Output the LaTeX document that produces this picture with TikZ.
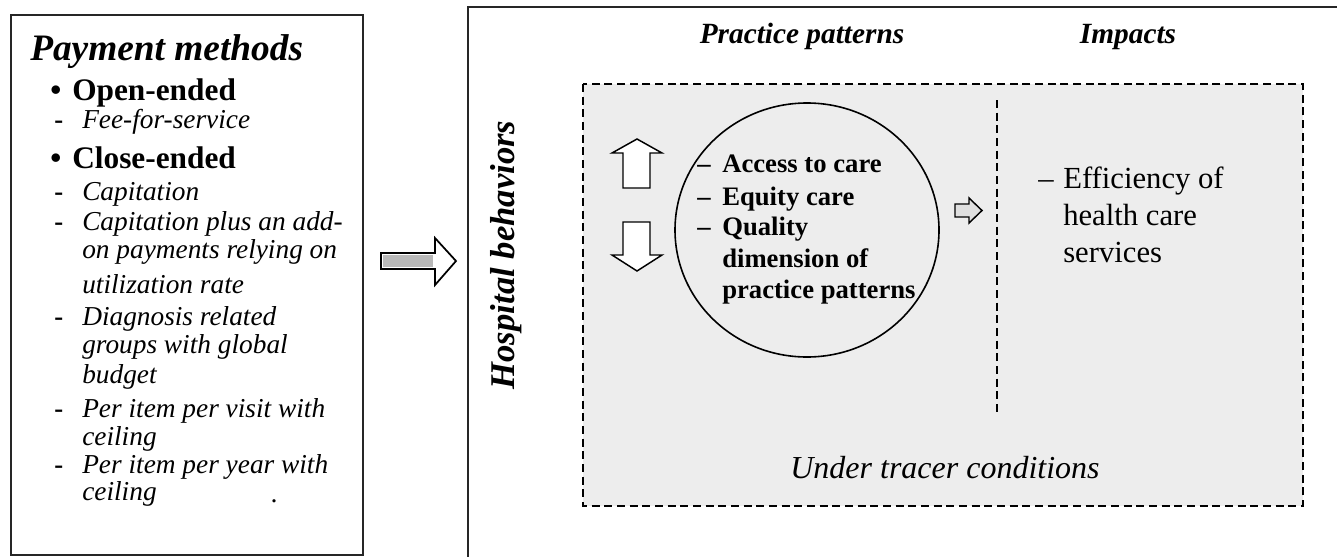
\documentclass[tikz,border=0pt]{standalone}
\usepackage{fontspec}
\setmainfont{Liberation Serif}
\usetikzlibrary{shapes.geometric}
\begin{document}
\begin{tikzpicture}[x=0.75pt,y=-0.75pt,
  frame/.style={line width=1.6pt, draw=black!85},
  txt/.style={inner sep=0pt, anchor=base west},
  title/.style={txt, font=\fontsize{28}{32}\selectfont\bfseries\itshape},
  head/.style={txt, font=\fontsize{23.5}{28}\selectfont\bfseries},
  item/.style={txt, font=\fontsize{20.5}{24}\selectfont\itshape},
  dsh/.style={txt, font=\fontsize{20}{24}\selectfont\bfseries},
  ctext/.style={txt, font=\fontsize{20}{24}\selectfont\bfseries},
  etext/.style={txt, font=\fontsize{23}{27}\selectfont},
  coltitle/.style={inner sep=0pt, anchor=base, font=\fontsize{22}{26}\selectfont\bfseries\itshape},
  dashbox/.style={line width=1.3pt, dash pattern=on 6pt off 3.5pt},
  blockarrow/.style={line width=1.1pt, draw=black, fill=white},
]
\useasboundingbox (0,0) rectangle (1337,557);
% frames
\draw[frame] (11,15) rectangle (363,555);
\draw[frame] (1337,7) -- (468,7) -- (468,557);

% left box texts
\node[title] (pm) at (30,60) {Payment methods};
\node[head] (b1) at (50,100) {•};
\node[head] (oe) at (72,100) {Open-ended};
\node[dsh] (d1) at (54,128) {-};
\node[item] (i1) at (82,128) {Fee-for-service};
\node[head] (b2) at (50,168) {•};
\node[head] (ce) at (72,168) {Close-ended};
\node[dsh] (d2) at (54,200) {-};
\node[item] (i2) at (82,200) {Capitation};
\node[dsh] (d3) at (54,230) {-};
\node[item] (i3a) at (82,230) {Capitation plus an add-};
\node[item] (i3b) at (82,258) {on payments relying on};
\node[item] (i3c) at (82,293) {utilization rate};
\node[dsh] (d4) at (54,325) {-};
\node[item] (i4a) at (82,325) {Diagnosis related};
\node[item] (i4b) at (82,353) {groups with global};
\node[item] (i4c) at (82,383) {budget};
\node[dsh] (d5) at (54,417) {-};
\node[item] (i5a) at (82,417) {Per item per visit with};
\node[item] (i5b) at (82,445) {ceiling};
\node[dsh] (d6) at (54,473) {-};
\node[item] (i6a) at (82,473) {Per item per year with};
\node[item] (i6b) at (82,500) {ceiling};
\node[item] (dot) at (271,502) {.};

% big grey arrow
\filldraw[line width=1.3pt, fill=white] (381,253) -- (435,253) -- (435,238) -- (456,261) -- (435,285) -- (435,269) -- (381,269) -- cycle;
\fill[gray!55] (383,255) rectangle (433,267);

% hospital behaviors
\node[inner sep=0pt, anchor=base, rotate=90, font=\fontsize{26}{30}\selectfont\bfseries\itshape] (hb) at (514,255) {Hospital behaviors};

% column titles
\node[coltitle] (pp) at (802,43) {Practice patterns};
\node[coltitle] (im) at (1128,43) {Impacts};

% dashed boxes (faint fill for the textured background)
\fill[black!7] (583,84) rectangle (1303,506);
\draw[dashbox] (583,84) rectangle (1303,506);
\draw[dashbox] (997,100) -- (997,415);

% circle
\node[draw, ellipse, line width=1.2pt, minimum width=198pt, minimum height=190.5pt, inner sep=0pt] (circ) at (807,230) {};

% up / down arrows
\draw[blockarrow] (623,188) -- (623,153) -- (612,153) -- (637,139) -- (662,153) -- (650,153) -- (650,188) -- cycle;
\draw[blockarrow] (623,222) -- (650,222) -- (650,255) -- (662,255) -- (637,271) -- (612,255) -- (623,255) -- cycle;
% small right arrow
\draw[line width=1.1pt, fill=gray!25] (955,204) -- (969,204) -- (969,198) -- (982,210.5) -- (969,223) -- (969,217) -- (955,217) -- cycle;

% circle text
\node[ctext] (c1d) at (697,172) {–};
\node[ctext] (c1) at (722,172) {Access to care};
\node[ctext] (c2d) at (697,205) {–};
\node[ctext] (c2) at (722,205) {Equity care};
\node[ctext] (c3d) at (697,235) {–};
\node[ctext] (c3) at (722,235) {Quality};
\node[ctext] (c4) at (722,267) {dimension of};
\node[ctext] (c5) at (722,298) {practice patterns};

% impacts text
\node[etext] (e0) at (1038,188) {–};
\node[etext] (e1) at (1063,188) {Efficiency of};
\node[etext] (e2) at (1063,225) {health care};
\node[etext] (e3) at (1063,262) {services};

% bottom label
\node[inner sep=0pt, anchor=base, font=\fontsize{24}{28}\selectfont\itshape] (ut) at (945,478) {Under tracer conditions};
\end{tikzpicture}
\end{document}
